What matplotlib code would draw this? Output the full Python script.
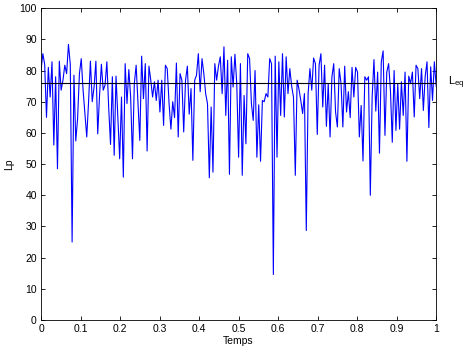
import numpy as np
import matplotlib
matplotlib.use('Agg')
import matplotlib.pyplot as plt

# niveaux de pression acoustique Lp (dB)
lp_seg1 = [80, 85.4, 82, 65, 81, 71.5, 82.8, 56.1, 78, 48.5, 83, 73.7,
           76.9, 81.7, 79, 88.4, 82, 25,
           78.5, 57.4, 64.6, 79, 83.8, 73.7, 66, 58.7, 70, 83, 70, 74.7, 83,
           59.7, 72, 82, 73.7, 75.3, 82.8, 68, 56.3, 78, 52.8, 78.2, 65, 51.7,
           71.5, 45.8, 82.2, 69.4, 80.3, 71.5, 51.7, 75.8, 81.7, 70, 57.6]
lp_seg2 = [84.6, 71, 82.2, 54.2, 81.4, 76.9, 71.5, 76.4, 70.4, 76.9, 66.7, 76.9,
           62.4, 81.7, 80.6, 69.4, 61.2, 70, 64.9, 82.4, 58.7, 79, 76.9, 60.3,
           76.9, 81.4, 66, 74.2, 51.2, 76.9, 78.5, 85.4, 73.2, 83.8, 79, 72.6,
           69.4, 45.6, 68.3, 47.4, 82.2, 76.9, 81.4, 84.4, 72.6, 87.6, 65.6,
           83.3, 46.7, 84.4, 74.7, 85.2, 75.8, 52.2, 82.2, 46.4]
lp_seg3 = [72, 56.5, 85.4, 83.8, 69.4, 64, 80, 52.2, 69, 50.9, 70.4, 70, 72.6,
           71.5, 83.8, 82.2, 14.6, 84.6, 52.2, 82.8, 65.6, 85.4, 65.1, 84.4,
           72.6, 80.6, 75, 71.5, 46.4, 76.9, 74, 70.4, 66.2, 72.6, 28.7, 72.6,
           80.6, 73.7, 84, 82.2, 59.5, 81.7, 85.4, 68.3, 81.7, 62.1, 75.8, 58.7,
           77.9, 82.2, 66.7, 61.9, 80.6]
lp_seg4 = [75.8, 61.9, 81.4, 66.7, 73.2, 64.9, 81, 71.5, 81, 79.5, 58.7, 68.8, 51,
           78, 76.9, 78, 40, 71.5, 83.5, 67, 79.5, 53.5, 82.8, 86.3, 59.2, 79.5,
           82.2, 73.7, 57, 80, 60.8, 75.8, 61.2, 76.4, 65.6, 79.5, 50.9, 78.2,
           75.8, 79.5, 65.1, 81.7, 80.6, 71, 80.6, 67.2, 78.2, 82.8, 61.7, 81.2,
           70.4, 82.8, 75]
lp = np.array(lp_seg1 + lp_seg2 + lp_seg3 + lp_seg4)
leq = 76

temps = np.linspace(0, 1, len(lp))

plt.rcParams['font.family'] = ['Liberation Sans', 'DejaVu Sans']
plt.rcParams['font.size'] = 7.5

fig = plt.figure(figsize=(4.66, 3.54), dpi=100)
ax = fig.add_axes([0.088, 0.096, 0.848, 0.881])

ax.plot(temps, lp, color='#0000ff', linewidth=0.8)
ax.axhline(leq, color='black', linewidth=0.8)
ax.text(1.03, leq, r'L$_\mathregular{eq}$', fontsize=8, va='center', ha='left',
        transform=ax.get_yaxis_transform())

ax.set_xlim(0, 1)
ax.set_ylim(0, 100)
ax.set_xticks(np.arange(0, 1.01, 0.1))
ax.set_xticklabels(['0', '0.1', '0.2', '0.3', '0.4', '0.5', '0.6', '0.7', '0.8', '0.9', '1'])
ax.set_yticks(np.arange(0, 101, 10))
ax.tick_params(direction='in', length=3, width=0.6, top=True, right=True, pad=3)
for s in ax.spines.values():
    s.set_linewidth(0.6)
ax.set_xlabel('Temps', labelpad=1)
ax.set_ylabel('Lp', labelpad=4)

fig.savefig('out.png', dpi=100)
